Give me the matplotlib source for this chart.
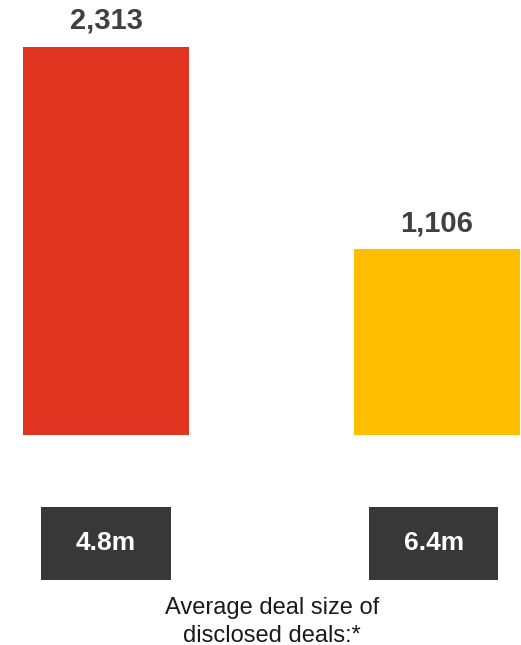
import matplotlib.pyplot as plt

plt.rcParams['font.family'] = ['Liberation Sans', 'DejaVu Sans']

# Data
categories = ['A', 'B']
deal_counts = [2313, 1106]
avg_deal_size = ['4.8m', '6.4m']
bar_colors = ['#E03320', '#FFBF00']

W, H = 521, 645
fig = plt.figure(figsize=(W / 100, H / 100), dpi=100)

# bar axes: x from 0 to 521 px, y from 435 px (bottom) to 47 px (top)
xlim = (-106 / 331, 1 + (521 - 437) / 331)
ax = fig.add_axes([0, (H - 435) / H, 1, (435 - 47) / H])
x = range(len(categories))
bars = ax.bar(x, deal_counts, width=0.5, color=bar_colors)
ax.set_xlim(*xlim)
ax.set_ylim(0, max(deal_counts))
ax.axis('off')

for rect, v in zip(bars, deal_counts):
    ax.annotate(f'{v:,}', (rect.get_x() + rect.get_width() / 2, v),
                xytext=(0, 13), textcoords='offset points',
                ha='center', va='baseline', fontsize=21,
                fontweight='bold', color='#404040')

# dark boxes with average deal size
ax2 = fig.add_axes([0, (H - 580) / H, 1, (580 - 507) / H])
boxes = ax2.bar([0, 0.99], [1, 1], width=0.39, color='#383838')
ax2.set_xlim(*xlim)
ax2.set_ylim(0, 1)
ax2.axis('off')
for rect, s in zip(boxes, avg_deal_size):
    ax2.text(rect.get_x() + rect.get_width() / 2, 0.5, s,
             ha='center', va='center', fontsize=19,
             fontweight='bold', color='white')

fig.text(272 / W, 1 - 622 / H, 'Average deal size of\ndisclosed deals:*',
         ha='center', va='center', fontsize=17, color='#1a1a1a',
         linespacing=1.3)

fig.savefig('out.png', dpi=100)
